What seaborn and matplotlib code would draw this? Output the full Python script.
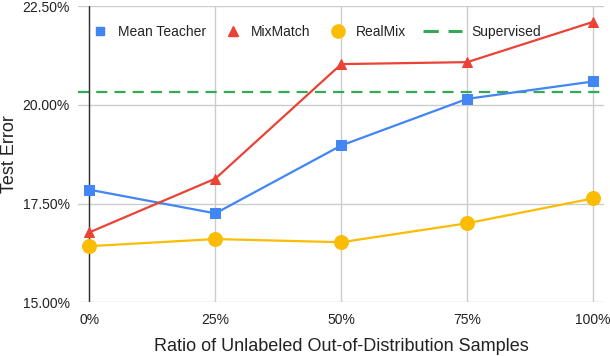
import pandas as pd
import matplotlib.pyplot as plt
import seaborn as sns
from matplotlib.lines import Line2D
from matplotlib.ticker import FuncFormatter

ratios = ["0%", "25%", "50%", "75%", "100%"]
mean_teacher = [17.85, 17.25, 18.97, 20.15, 20.59]
mixmatch = [16.77, 18.13, 21.03, 21.08, 22.10]
realmix = [16.42, 16.60, 16.52, 17.00, 17.63]
supervised = 20.33

series = {
    "Mean Teacher": (mean_teacher, "#4285F4", "s", 6.5),
    "MixMatch": (mixmatch, "#EA4335", "^", 7.5),
    "RealMix": (realmix, "#FBBC04", "o", 10),
}
sup_color = "#34A853"

sns.set_style("white")
plt.rcParams['font.family'] = ['Liberation Sans', 'DejaVu Sans']

fig = plt.figure(figsize=(6.1, 3.56), dpi=100)
ax = fig.add_axes([0.128, 0.151, 0.862, 0.832])

handles = []
for name, (vals, color, marker, ms) in series.items():
    df = pd.DataFrame({"ratio": ratios, "err": vals})
    sns.lineplot(data=df, x="ratio", y="err", ax=ax, color=color, marker=marker,
                 markersize=ms, markeredgecolor=color, linewidth=1.6,
                 sort=False, zorder=3, legend=False)
    # legend shows only the marker, like the original
    handles.append(Line2D([], [], linestyle="none", marker=marker, color=color,
                          markersize=ms * 0.95, label=name))

ax.axhline(supervised, color=sup_color, linestyle=(0, (5, 3.2)), linewidth=1.6, zorder=2)
sup_handle = Line2D([], [], color=sup_color, linestyle=(0, (5, 3.2)),
                    linewidth=2.2, label="Supervised")

ax.set_ylim(15, 22.5)
ax.set_xlim(-0.09, 4.085)
ax.set_yticks([15, 17.5, 20, 22.5])
ax.yaxis.set_major_formatter(FuncFormatter(lambda v, p: f"{v:.2f}%"))
ax.grid(True, color="#cccccc", linewidth=1)
ax.axvline(0, color="#333333", linewidth=1, zorder=2)
for s in ax.spines.values():
    s.set_visible(False)
ax.tick_params(length=0, labelsize=10, colors="#222222")
ax.tick_params(axis="y", pad=6)
ax.tick_params(axis="x", pad=8)

ax.set_xlabel("Ratio of Unlabeled Out-of-Distribution Samples", fontsize=13,
              color="#222222", labelpad=8)
ax.set_ylabel("Test Error", fontsize=13, color="#222222", labelpad=3)

leg1 = ax.legend(handles=handles, loc="center left", bbox_to_anchor=(0.021, 0.912),
                 ncol=3, frameon=False, fontsize=10, handlelength=1.6,
                 columnspacing=1.2, handletextpad=0.45, borderpad=0,
                 borderaxespad=0, labelcolor="#222222")
ax.add_artist(leg1)
ax.legend(handles=[sup_handle], loc="center left", bbox_to_anchor=(0.656, 0.912),
          frameon=False, fontsize=10, handlelength=2.8, handletextpad=0.7,
          borderpad=0, borderaxespad=0, labelcolor="#222222")

plt.savefig("out.png", dpi=100)
plt.close(fig)
